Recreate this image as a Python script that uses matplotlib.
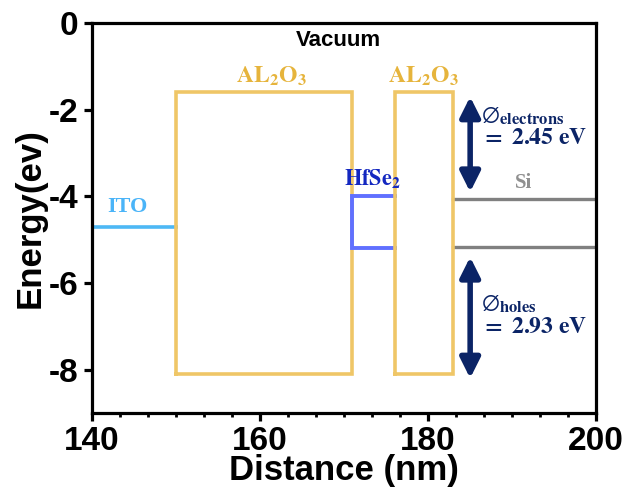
import matplotlib
matplotlib.use('Agg')
import matplotlib.pyplot as plt
from matplotlib.ticker import AutoMinorLocator

plt.rcParams['font.family'] = 'Liberation Sans'
plt.rcParams['mathtext.fontset'] = 'stix'

# band levels (eV) and layer boundaries (nm)
ito_x = [140, 150]
ito_level = -4.7
al1_x = [150, 171]
al2_x = [176, 183]
al_top = -1.6
al_bottom = -8.1
hfse2_x = [171, 176]
hfse2_cb = -4.0
hfse2_vb = -5.2
si_x = [183, 200]
si_cb = -4.05
si_vb = -5.17
arrow_x = 185
electron_arrow = [-1.7, -3.9]
hole_arrow = [-5.4, -8.2]

gold = '#efc667'
gold_text = '#e6b43c'
navy = '#0b2466'

fig = plt.figure(figsize=(6.25, 4.91), dpi=100)
ax = fig.add_axes([0.147, 0.159, 0.807, 0.794])

# ITO
ax.plot(ito_x, [ito_level, ito_level], color='#4db8f5', lw=2.6)

# Al2O3 barriers
for xs, z in ((al1_x, 2), (al2_x, 4)):
    ax.plot([xs[0], xs[0], xs[1], xs[1], xs[0]],
            [al_bottom, al_top, al_top, al_bottom, al_bottom],
            color=gold, lw=2.6, solid_joinstyle='miter', zorder=z)

# HfSe2 well
ax.plot([hfse2_x[1], hfse2_x[0], hfse2_x[0], hfse2_x[1]],
        [hfse2_cb, hfse2_cb, hfse2_vb, hfse2_vb], color='#6070ff', lw=2.8,
        solid_joinstyle='miter', zorder=3)

# Si
ax.plot(si_x, [si_cb, si_cb], color='#808080', lw=2.4)
ax.plot(si_x, [si_vb, si_vb], color='#808080', lw=2.4)

# barrier arrows
for a in (electron_arrow, hole_arrow):
    ax.annotate('', xy=(arrow_x, a[0]), xytext=(arrow_x, a[1]),
                arrowprops=dict(arrowstyle='<|-|>', color=navy, lw=4,
                                mutation_scale=30, shrinkA=0, shrinkB=0))

# labels
ax.text(169.3, -0.4, 'Vacuum', fontsize=16, fontweight='bold', ha='center', va='center')
ax.text(161.4, -1.22, r'$\mathbf{AL_2O_3}$', fontsize=17, color=gold_text, ha='center', va='center')
ax.text(179.5, -1.22, r'$\mathbf{AL_2O_3}$', fontsize=17, color=gold_text, ha='center', va='center')
ax.text(144.2, -4.25, 'ITO', fontsize=16, color='#4ab4f8', fontweight='bold',
        fontfamily='Liberation Serif', ha='center', va='center')
ax.text(173.4, -3.6, r'$\mathbf{HfSe_2}$', fontsize=16, color='#1428c0', ha='center', va='center',
        zorder=6)
ax.text(191.3, -3.7, 'Si', fontsize=15, color='#909090', fontweight='bold',
        fontfamily='Liberation Serif', ha='center', va='center')
ax.text(186.3, -2.4, r'$\varnothing_{\mathbf{electrons}}$' + '\n' + r'$\mathbf{=\ 2.45\ eV}$',
        fontsize=17, color=navy, ha='left', va='center', linespacing=1.0)
ax.text(186.3, -6.75, r'$\varnothing_{\mathbf{holes}}$' + '\n' + r'$\mathbf{=\ 2.93\ eV}$',
        fontsize=17, color=navy, ha='left', va='center', linespacing=1.0)

ax.set_xlim(140, 200)
ax.set_ylim(-9, 0)
ax.set_xticks([140, 160, 180, 200])
ax.set_yticks([0, -2, -4, -6, -8])
ax.set_yticklabels(['0', '-2', '-4', '-6', '-8'])
ax.xaxis.set_minor_locator(AutoMinorLocator(6))
for s in ax.spines.values():
    s.set_linewidth(2.3)
ax.tick_params(axis='both', which='major', labelsize=24, width=2.3, length=6)
ax.tick_params(axis='x', which='minor', width=2.0, length=3)
for lab in ax.get_xticklabels() + ax.get_yticklabels():
    lab.set_fontweight('bold')
ax.set_xlabel('Distance (nm)', fontsize=25, fontweight='bold', labelpad=-2)
ax.set_ylabel('Energy(ev)', fontsize=25, fontweight='bold', labelpad=2)

fig.savefig('out.png', dpi=100)
